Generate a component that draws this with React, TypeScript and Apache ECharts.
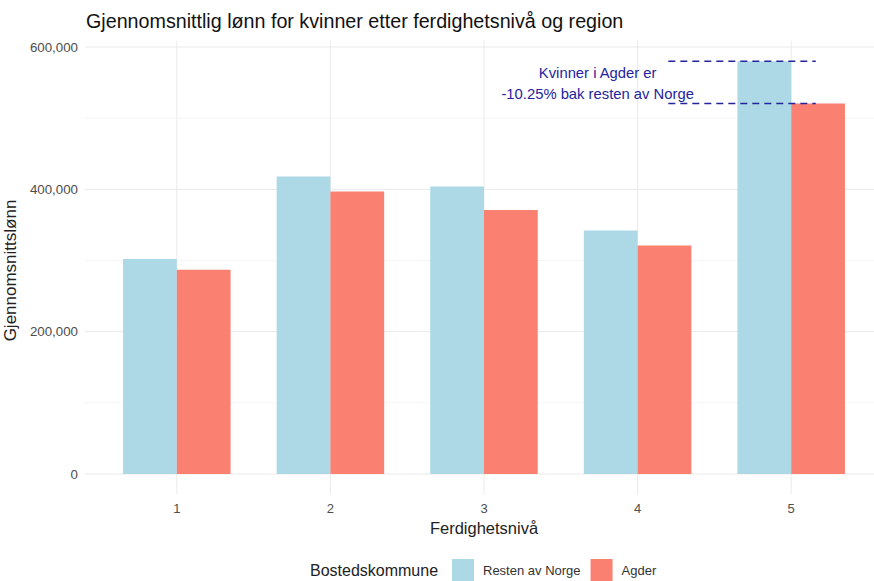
import React, { useEffect, useRef } from "react";
import * as echarts from "echarts";

const categories = ["1", "2", "3", "4", "5"];
const restenValues = [302000, 418000, 404000, 342000, 580000];
const agderValues = [287000, 397000, 371000, 321000, 520550];
const yTicks = [0, 100000, 200000, 300000, 400000, 500000, 600000];
const seriesNames = ["Resten av Norge", "Agder"];
const annotationText = "Kvinner i Agder er\n-10.25% bak resten av Norge";
const annotationIndex = 4;

const FONT = "'Liberation Sans', Arial, Helvetica, sans-serif";
const DARKBLUE = "#24249c";

export default function App() {
  const ref = useRef<HTMLDivElement>(null);
  useEffect(() => {
    if (!ref.current) return;
    document.body.style.margin = "0";
    const chart = echarts.init(ref.current, undefined, { renderer: "svg" });
    const yMaxPanel = 609000;
    const yMinPanel = -29000;
    chart.setOption({
      animation: false,
      backgroundColor: "#ffffff",
      textStyle: { fontFamily: FONT },
      title: {
        text: "Gjennomsnittlig lønn for kvinner etter ferdighetsnivå og region",
        left: 81,
        top: 6,
        textStyle: { fontFamily: FONT, fontSize: 19.7, fontWeight: "normal", color: "#111" },
      },
      grid: {
        left: 100,
        right: 6,
        top: 47,
        bottom: 107,
        containLabel: false,
        outerBoundsMode: "none",
      },
      legend: {
        data: seriesNames,
        left: 447,
        top: 554,
        itemWidth: 22,
        itemHeight: 22,
        itemGap: 10,
        icon: "rect",
        textStyle: { fontFamily: FONT, fontSize: 13, color: "#333", padding: [0, 0, 0, 4] },
      },
      graphic: [
        {
          type: "text",
          left: 310,
          top: 562,
          style: { text: "Bostedskommune", fontFamily: FONT, fontSize: 16, fill: "#222" },
        },
      ],
      xAxis: {
        type: "category",
        data: categories,
        axisLine: { show: false },
        axisTick: { show: false },
        splitLine: { show: false },
        axisLabel: { margin: 28, fontSize: 13, color: "#4d4d4d", fontFamily: FONT },
        name: "Ferdighetsnivå",
        nameLocation: "middle",
        nameGap: 38,
        nameTextStyle: { fontSize: 16.5, color: "#222", fontFamily: FONT },
      },
      yAxis: {
        type: "value",
        min: 0,
        max: 600000,
        interval: 100000,
        axisLine: { show: false },
        axisTick: { show: false },
        splitLine: { show: false },
        axisLabel: {
          margin: 22,
          fontSize: 13.3,
          color: "#4d4d4d",
          fontFamily: FONT,
          formatter: (v: number) => (v % 200000 === 0 ? v.toLocaleString("en-US") : ""),
        },
        name: "Gjennomsnittslønn",
        nameLocation: "middle",
        nameGap: 65,
        nameTextStyle: { fontSize: 17, color: "#222", fontFamily: FONT, padding: [0, 20, 0, 0] },
      },
      series: [
        {
          type: "custom",
          name: "gridlines",
          silent: true,
          clip: false,
          z: 0,
          data: categories.map((_, i) => [i, 0]),
          encode: { x: 0, y: 1 },
          renderItem: (params: any, api: any) => {
            const idx = api.value(0);
            const cs = params.coordSys;
            const children: any[] = [];
            const cx = api.coord([idx, 0])[0];
            children.push({
              type: "line",
              shape: {
                x1: cx,
                y1: api.coord([idx, yMaxPanel])[1],
                x2: cx,
                y2: api.coord([idx, yMinPanel])[1],
              },
              style: { stroke: "#ebebeb", lineWidth: 1 },
            });
            if (params.dataIndex === 0) {
              yTicks.forEach((t) => {
                const y = api.coord([0, t])[1];
                const major = t % 200000 === 0;
                children.push({
                  type: "line",
                  shape: { x1: cs.x - 15, y1: y, x2: cs.x + cs.width + 10, y2: y },
                  style: { stroke: major ? "#e9e9e9" : "#f3f3f3", lineWidth: major ? 1 : 0.8 },
                });
              });
            }
            return { type: "group", children };
          },
        },
        {
          type: "bar",
          name: seriesNames[0],
          data: restenValues,
          barWidth: "35%",
          barGap: "0%",
          z: 2,
          itemStyle: { color: "#ADD8E6" },
        },
        {
          type: "bar",
          name: seriesNames[1],
          data: agderValues,
          barWidth: "35%",
          barGap: "0%",
          z: 2,
          itemStyle: { color: "#FA8072" },
        },
        {
          type: "custom",
          name: "annotation",
          silent: true,
          clip: false,
          z: 5,
          data: [[annotationIndex, restenValues[annotationIndex], agderValues[annotationIndex]]],
          encode: { x: 0, y: [1, 2] },
          renderItem: (params: any, api: any) => {
            const idx = api.value(0);
            const p1 = api.coord([idx, api.value(1)]);
            const p2 = api.coord([idx, api.value(2)]);
            const bw = api.size([1, 0])[0];
            const x1 = p1[0] - 0.8 * bw;
            const x2 = p1[0] + 0.16 * bw;
            const dash = { stroke: DARKBLUE, lineWidth: 1.4, lineDash: [7, 5] };
            return {
              type: "group",
              children: [
                { type: "line", shape: { x1, y1: p1[1], x2, y2: p1[1] }, style: dash },
                { type: "line", shape: { x1, y1: p2[1], x2, y2: p2[1] }, style: dash },
                {
                  type: "text",
                  style: {
                    text: annotationText,
                    x: p1[0] - 1.26 * bw,
                    y: (p1[1] + p2[1]) / 2 + 1.5,
                    align: "center",
                    verticalAlign: "middle",
                    fontFamily: FONT,
                    fontSize: 14.8,
                    lineHeight: 21,
                    fill: DARKBLUE,
                  },
                },
              ],
            };
          },
        },
      ],
    });
    return () => chart.dispose();
  }, []);
  return (
    <div
      ref={ref}
      style={{ width: 874, height: 581, position: "absolute", left: 0, top: 0 }}
    />
  );
}
